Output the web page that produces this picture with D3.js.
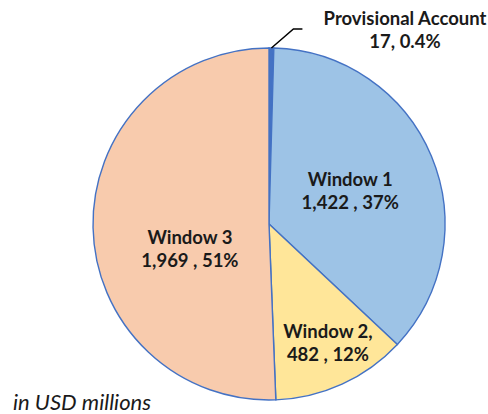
<!DOCTYPE html>
<html lang="en">
<head>
<meta charset="UTF-8">
<title>Allocation by window</title>
<script src="https://d3js.org/d3.v7.min.js"></script>
<style>
body { margin: 0; background: white; }
#chart svg { display: block; background: white; }
.slice-label { font-family: Lato, 'Open Sans', sans-serif; font-weight: bold; font-size: 18.5px; fill: #1a1a1a; }
.unit-note { font-family: Lato, 'Open Sans', sans-serif; font-style: italic; font-size: 22px; fill: #1a1a1a; }
</style>
</head>
<body>
<div id="chart"></div>
<script>

// --------------------------------------
// Data
// --------------------------------------
const names = ["Provisional Account", "Window 1", "Window 2", "Window 3"];
const amounts = [17, 1422, 482, 1969];
const labelLines = [
  ["Provisional Account", "17, 0.4%"],
  ["Window 1", "1,422 , 37%"],
  ["Window 2,", "482 , 12%"],
  ["Window 3", "1,969 , 51%"]
];
const colors = ["#4472C4", "#9DC3E6", "#FFE699", "#F8CBAD"];

// --------------------------------------
// Size
// --------------------------------------
let totalWidth = 488;
let totalHeight = 414;
let cx = 269, cy = 224, radius = 176;

let svg = d3.select("#chart")
  .append("svg")
  .attr("width", totalWidth)
  .attr("height", totalHeight);

let g = svg.append("g")
  .attr("transform", `translate(${cx}, ${cy})`);

let pie = d3.pie().sort(null).value(d => d.value);
let arcs = pie(names.map((n, i) => ({name: n, value: amounts[i], lines: labelLines[i], color: colors[i]})));

let arc = d3.arc().innerRadius(0).outerRadius(radius);

g.selectAll("path.slice")
  .data(arcs)
  .join("path")
  .attr("class", "slice")
  .attr("d", arc)
  .attr("fill", d => d.data.color)
  .attr("stroke", "#4472C4")
  .attr("stroke-width", 1.4);

// label placement: fraction of radius, and angle nudge in degrees
let labelRadius = [0, 0.5, 0.75, 0.47];
let labelNudge = [0, 0, -2, -16];
let lineGap = 23;

arcs.forEach((d, i) => {
  if (i === 0) return;
  let mid = (d.startAngle + d.endAngle) / 2 + labelNudge[i] * Math.PI / 180;
  let r = radius * labelRadius[i];
  let x = Math.sin(mid) * r;
  let y = -Math.cos(mid) * r;
  let t = g.append("text")
    .attr("class", "slice-label")
    .attr("text-anchor", "middle")
    .attr("x", x)
    .attr("y", y - 4.5);
  d.data.lines.forEach((line, j) => {
    t.append("tspan").attr("x", x).attr("dy", j === 0 ? 0 : lineGap).text(line);
  });
});

// Provisional account leader line + label
let p = arcs[0];
let pm = (p.startAngle + p.endAngle) / 2;
let px = Math.sin(pm) * radius, py = -Math.cos(pm) * radius;
g.append("path")
  .attr("d", d3.line()([[px, py], [px + 22, py - 19], [px + 31, py - 19]]))
  .attr("fill", "none")
  .attr("stroke", "black")
  .attr("stroke-width", 1.5);

let pt = svg.append("text")
  .attr("class", "slice-label")
  .attr("text-anchor", "middle")
  .attr("x", 405)
  .attr("y", 25);
p.data.lines.forEach((line, j) => {
  pt.append("tspan").attr("x", 405).attr("dy", j === 0 ? 0 : lineGap).text(line);
});

svg.append("text")
  .attr("class", "unit-note")
  .attr("x", 13)
  .attr("y", 410)
  .text("in USD millions");

</script>
</body>
</html>
